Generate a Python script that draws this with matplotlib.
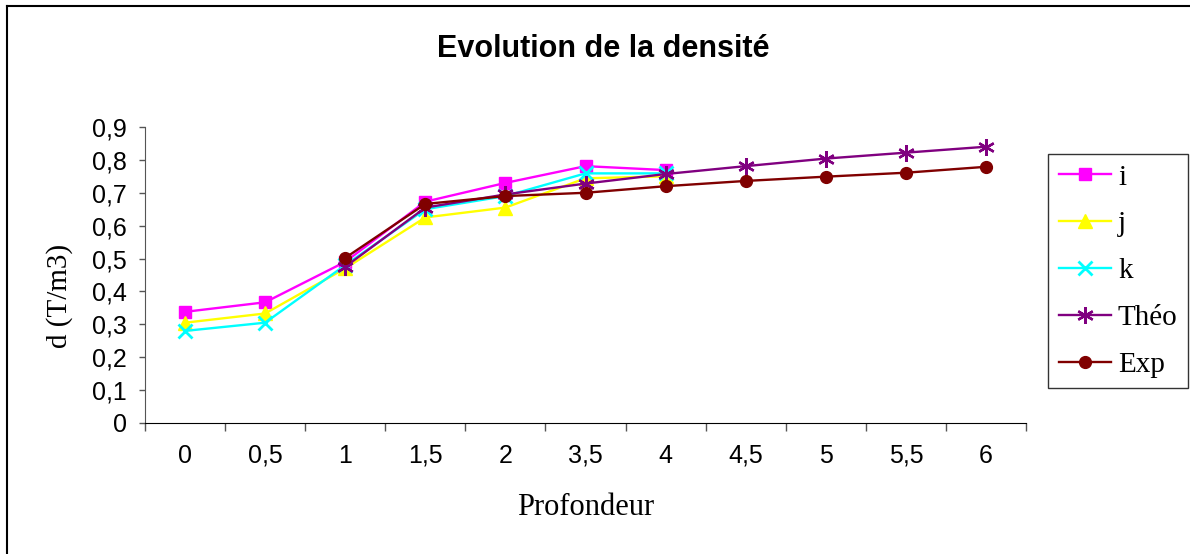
import numpy as np
import matplotlib.pyplot as plt
from matplotlib.lines import Line2D

# depth categories (shown as text on a category axis)
profondeur = ["0", "0,5", "1", "1,5", "2", "3,5", "4", "4,5", "5", "5,5", "6"]

# measured densities, series i, j, k stop at depth 4
d_i = [0.338, 0.367, 0.490, 0.673, 0.730, 0.781, 0.769]
d_j = [0.305, 0.333, 0.470, 0.625, 0.655, 0.744, 0.750]
d_k = [0.280, 0.305, 0.480, 0.650, 0.690, 0.759, 0.759]
# theoretical and experimental curves start at depth 1
d_theo = [0.475, 0.655, 0.695, 0.728, 0.757, 0.781, 0.804, 0.822, 0.840]
d_exp = [0.502, 0.666, 0.690, 0.700, 0.720, 0.736, 0.749, 0.761, 0.779]

fig = plt.figure(figsize=(11.9, 5.54), dpi=100)
ax = fig.add_axes([145/1190, 1 - 423/554, 881/1190, 296/554])

x = np.arange(len(profondeur))
asterisk = (6, 2, 0)

ax.plot(x[:7], d_i, color="#FF00FF", marker="s", ms=8, lw=1.7, label="i")
ax.plot(x[:7], d_j, color="#FFFF00", marker="^", ms=9.5, lw=1.7, label="j")
ax.plot(x[:7], d_k, color="#00FFFF", marker="x", ms=10, mew=2, lw=1.7, label="k")
ax.plot(x[2:], d_theo, color="#800080", marker=asterisk, ms=12, mew=1.7, lw=1.7, label="Théo")
ax.plot(x[2:], d_exp, color="#800000", marker="o", ms=8.5, lw=1.7, label="Exp")

ax.set_xlim(-0.5, len(profondeur) - 0.5)
ax.set_ylim(0, 0.9)
yt = np.round(np.arange(0, 0.91, 0.1), 1)
ax.set_yticks(yt)
ax.set_yticklabels([("%g" % v).replace(".", ",") for v in yt],
                   family="Liberation Sans", fontsize=18)
ax.set_xticks(x)
ax.set_xticklabels(profondeur, family="Liberation Sans", fontsize=18)
ax.tick_params(axis="x", length=0, pad=15)
ax.tick_params(axis="y", length=4, width=1, direction="out", color="#555555", pad=9)
# category boundary ticks on the x axis
ax.set_xticks(np.arange(-0.5, len(profondeur)), minor=True)
ax.tick_params(axis="x", which="minor", length=6, width=1, color="#555555")

ax.spines["top"].set_visible(False)
ax.spines["right"].set_visible(False)
ax.spines["left"].set_color("#555555")
ax.spines["bottom"].set_color("black")

ax.set_xlabel("Profondeur", family="Liberation Serif", fontsize=22)
ax.xaxis.set_label_coords(0.5, -0.235)
ax.set_ylabel("d (T/m3)", family="Liberation Serif", fontsize=21)
ax.yaxis.set_label_coords(-0.082, 0.43)
fig.text(603/1190, 1 - 49/554, "Evolution de la densité", ha="center", va="center",
         family="Liberation Sans", fontweight="bold", fontsize=22)

leg = fig.legend(loc="center left", bbox_to_anchor=(1048/1190, 1 - 271/554),
                 prop={"family": "Liberation Serif", "size": 21},
                 frameon=True, fancybox=False, edgecolor="black",
                 handlelength=1.8, labelspacing=0.7, borderpad=0.36,
                 handletextpad=0.24, borderaxespad=0)
leg.get_frame().set_linewidth(1.0)

# chart frame visible along top and left edges
fig.add_artist(Line2D([7/1190, 7/1190], [0, 1 - 6/554], color="black", lw=1.5))
fig.add_artist(Line2D([7/1190, 1], [1 - 6/554, 1 - 6/554], color="black", lw=1.5))

fig.savefig("out.png", dpi=100)
